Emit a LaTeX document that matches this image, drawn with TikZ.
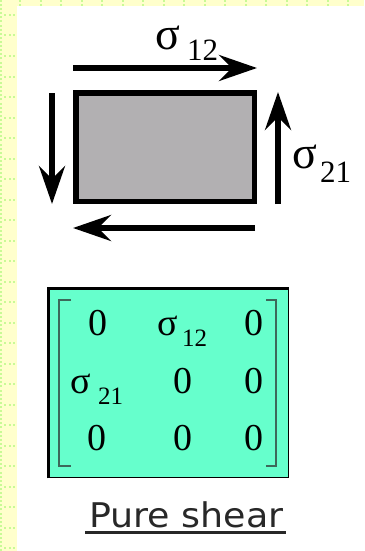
\documentclass[tikz,border=0pt]{standalone}
\usepackage{fontspec}
\setmainfont{Liberation Serif}
\newfontfamily\verd{DejaVu Sans}
\usetikzlibrary{arrows.meta}
\definecolor{bgyellow}{RGB}{255,255,204}
\definecolor{dotgreen}{RGB}{200,250,150}
\definecolor{boxgray}{RGB}{178,176,178}
\definecolor{aqua}{RGB}{102,255,204}
\definecolor{brk}{RGB}{60,105,90}
\definecolor{txtgray}{RGB}{40,40,40}
\tikzset{
  shear/.style={line width=5.5pt,-{Stealth[length=38pt,width=26pt,inset=13pt]}},
  sig/.style={inner sep=0pt,anchor=base west,font=\fontsize{46}{46}\selectfont},
  sub/.style={inner sep=0pt,anchor=base west,font=\fontsize{31}{31}\selectfont},
  ent/.style={inner sep=0pt,anchor=base,font=\fontsize{38}{38}\selectfont},
  msig/.style={inner sep=0pt,anchor=base west,font=\fontsize{38}{38}\selectfont},
  msub/.style={inner sep=0pt,anchor=base west,font=\fontsize{25}{25}\selectfont},
  bracket/.style={draw=brk,line width=2pt},
  dot/.style={fill=dotgreen}
}
\begin{document}
\begin{tikzpicture}[x=1pt,y=-1pt]
\useasboundingbox (0,0) rectangle (364,551);
\fill[white] (0,0) rectangle (364,551);
% page margin strips
\fill[bgyellow] (0,0) rectangle (17,551);
\fill[bgyellow] (0,0) rectangle (364,6);
\foreach \yy in {0,4.1,...,550} \fill[dot] (0,\yy) rectangle ++(2,2);
\foreach \yy in {14,34.5,...,550} {
  \foreach \xx in {4,8.5,13} \fill[dot] (\xx,\yy) rectangle ++(2,2);
}
\foreach \xx in {19,39.5,...,363} {
  \foreach \yy in {0,4} \fill[dot] (\xx,\yy) rectangle ++(2,2);
}
% element
\node[draw=black,line width=5.5pt,fill=boxgray,minimum width=178.5pt,minimum height=108.5pt,inner sep=0pt] (elem) at (165,147) {};
% shear arrows
\coordinate (ta) at (73,68);  \coordinate (tb) at (257,68);
\coordinate (ba) at (255,228); \coordinate (bb) at (73,228);
\coordinate (la) at (52,93);  \coordinate (lb) at (52,204);
\coordinate (ra) at (278,204); \coordinate (rb) at (278,92);
\draw[shear] (ta) -- (tb);
\draw[shear] (ba) -- (bb);
\draw[shear] (la) -- (lb);
\draw[shear] (ra) -- (rb);
\node[sig] (s12) at (155,50) {σ};
\node[sub] (s12i) at (187,60) {12};
\node[sig] (s21) at (292,168) {σ};
\node[sub] (s21i) at (320,182) {21};
% matrix box
\node[fill=aqua,draw=black,line width=1.5pt,minimum width=239pt,minimum height=188pt,inner sep=0pt] (mbox) at (169,383.5) {};
\draw[line width=3pt] (mbox.south west) -- (mbox.north west) -- (mbox.north east);
% brackets
\draw[bracket] (71,300) -- (59,300) -- (59,466) -- (71,466);
\draw[bracket] (266,300) -- (276,300) -- (276,466) -- (266,466);
% entries
\node[ent] (a11) at (98,335) {0};
\node[msig] (a12) at (157,335) {σ};
\node[msub] (a12i) at (182,346) {12};
\node[ent] (a13) at (254,335) {0};
\node[msig] (a21) at (70,393) {σ};
\node[msub] (a21i) at (98,404) {21};
\node[ent] (a22) at (183,393) {0};
\node[ent] (a23) at (254,393) {0};
\node[ent] (a31) at (97,450) {0};
\node[ent] (a32) at (183,450) {0};
\node[ent] (a33) at (254,450) {0};
% caption
\node[inner sep=0pt,anchor=base west,text=txtgray,font=\verd\fontsize{34}{34}\selectfont] (cap) at (89,527) {\scalebox{1.07}[1]{Pure shear}};
\draw[txtgray,line width=3pt] (85,532) -- (286,532);
\end{tikzpicture}
\end{document}
